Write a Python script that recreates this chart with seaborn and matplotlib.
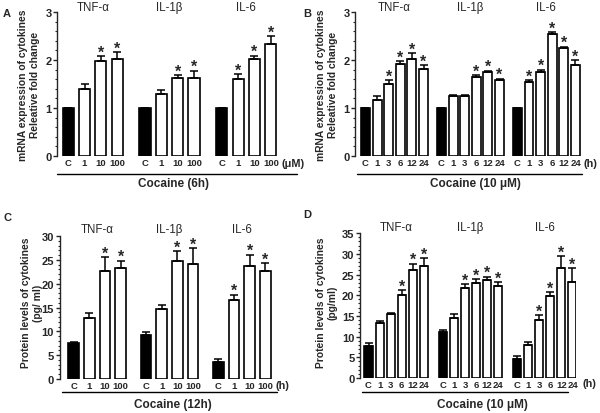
import numpy as np
import pandas as pd
import matplotlib
matplotlib.use("Agg")
import matplotlib.pyplot as plt
import seaborn as sns
from matplotlib.ticker import MultipleLocator

sns.set_style("ticks")
plt.rcParams['font.family'] = ['Liberation Sans', 'DejaVu Sans']

cytokines = ["TNF-α", "IL-1β", "IL-6"]

# A - mRNA, cocaine dose (uM), 6h
a_labels = ["C", "1", "10", "100"]
a_means = [[1.0, 1.40, 1.97, 2.02],
           [1.0, 1.30, 1.63, 1.63],
           [1.0, 1.60, 2.02, 2.34]]
a_errs = [[0, 0.10, 0.11, 0.15],
          [0, 0.08, 0.06, 0.15],
          [0, 0.10, 0.07, 0.15]]
a_sig = [[0, 0, 1, 1], [0, 0, 1, 1], [0, 1, 1, 1]]

# B - mRNA, time course (h), 10 uM
b_labels = ["C", "1", "3", "6", "12", "24"]
b_means = [[1.0, 1.17, 1.50, 1.91, 2.02, 1.82],
           [1.0, 1.25, 1.25, 1.65, 1.75, 1.58],
           [1.0, 1.55, 1.75, 2.55, 2.25, 1.90]]
b_errs = [[0, 0.07, 0.08, 0.07, 0.12, 0.07],
          [0, 0.02, 0.02, 0.03, 0.03, 0.03],
          [0, 0.03, 0.05, 0.03, 0.03, 0.09]]
b_sig = [[0, 0, 1, 1, 1, 1], [0, 0, 0, 1, 1, 1], [0, 1, 1, 1, 1, 1]]

# C - protein, cocaine dose, 12h
c_labels = ["C", "1", "10", "100"]
c_means = [[7.5, 12.8, 22.6, 23.3],
           [9.25, 14.7, 24.8, 24.1],
           [3.65, 16.6, 23.8, 22.6]]
c_errs = [[0.35, 1.05, 2.9, 1.5],
          [0.55, 0.9, 2.0, 3.4],
          [0.6, 1.1, 2.3, 1.75]]
c_sig = [[0, 0, 1, 1], [0, 0, 1, 1], [0, 1, 1, 1]]

# D - protein, time course, 10 uM
d_labels = ["C", "1", "3", "6", "12", "24"]
d_means = [[7.66, 13.2, 15.5, 20.0, 26.2, 27.0],
           [11.05, 14.6, 21.7, 23.0, 23.7, 22.2],
           [4.6, 8.0, 14.0, 19.8, 26.6, 23.2]]
d_errs = [[0.7, 0.5, 0.25, 1.3, 1.45, 1.95],
          [0.55, 0.8, 1.0, 0.95, 0.8, 0.95],
          [0.8, 0.8, 1.2, 0.95, 2.9, 3.4]]
d_sig = [[0, 0, 0, 1, 1, 1], [0, 0, 1, 1, 1, 1], [0, 0, 1, 1, 1, 1]]


def make_df(labels, means, errs, sig, gap):
    rows = []
    n = len(labels)
    for g, cyt in enumerate(cytokines):
        for i, lab in enumerate(labels):
            rows.append({"cytokine": cyt, "dose": lab, "pos": g * (n + gap) + i,
                         "value": means[g][i], "err": errs[g][i], "sig": sig[g][i],
                         "grp": "ctrl" if lab == "C" else "treat"})
    return pd.DataFrame(rows)


def draw_panel(ax, df, width, xlim, ylim, major, minor, title_y, unit, unit_x, tick_y,
               line, cap, cap_xy):
    sns.barplot(data=df, x="pos", y="value", hue="grp", palette={"ctrl": "black", "treat": "white"},
                native_scale=True, dodge=False, width=width, edgecolor="black", linewidth=1.2,
                errorbar=None, legend=False, ax=ax)
    ax.errorbar(df["pos"], df["value"], yerr=[np.zeros(len(df)), df["err"]], fmt="none",
                ecolor="black", elinewidth=1.1, capsize=2.6, capthick=1.1)
    # significance stars
    for _, r in df[df["sig"] == 1].iterrows():
        ax.annotate("*", xy=(r["pos"], r["value"] + r["err"]), xytext=(0, -2.5),
                    textcoords="offset points", ha="center", va="bottom",
                    fontsize=11.5, fontweight="bold")
    ax.set_xlim(*xlim)
    ax.set_ylim(*ylim)
    ax.set_xticks(df["pos"])
    ax.set_xticklabels(df["dose"], fontsize=6.8, fontweight="bold")
    ax.tick_params(axis="x", length=0, pad=1.5)
    ax.yaxis.set_major_locator(MultipleLocator(major))
    ax.yaxis.set_minor_locator(MultipleLocator(minor))
    ax.tick_params(axis="y", which="major", length=3, width=1, pad=1, labelsize=8)
    ax.tick_params(axis="y", which="minor", length=1.5, width=0.8)
    for t in ax.get_yticklabels():
        t.set_fontweight("bold")
    sns.despine(ax=ax, bottom=True)
    ax.spines["left"].set_linewidth(1)
    ax.set_xlabel("")
    ax.set_ylabel("")
    tr = ax.get_xaxis_transform()
    for cyt in cytokines:
        sub = df[df["cytokine"] == cyt]["pos"]
        ax.text((sub.min() + sub.max()) / 2, title_y, cyt, transform=tr,
                ha="center", va="center", fontsize=8.3)
    ax.text(unit_x, tick_y, unit, transform=ax.transAxes, ha="left", va="center",
            fontsize=7.8, fontweight="bold", clip_on=False)
    ax.plot(line[:2], [line[2], line[2]], transform=ax.transAxes, color="black",
            lw=1, clip_on=False)
    ax.text(cap_xy[0], cap_xy[1], cap, transform=ax.transAxes, ha="center", va="center",
            fontsize=8.5, fontweight="bold")


fig = plt.figure(figsize=(6, 4.14), dpi=100)
axA = fig.add_axes([0.095, 0.6208, 0.375, 0.3478])
axB = fig.add_axes([0.5917, 0.6208, 0.38, 0.3478])
axC = fig.add_axes([0.0992, 0.0821, 0.3558, 0.3454])
axD = fig.add_axes([0.600, 0.0845, 0.360, 0.350])

dfA = make_df(a_labels, a_means, a_errs, a_sig, 0.69)
dfB = make_df(b_labels, b_means, b_errs, b_sig, 0.54)
dfC = make_df(c_labels, c_means, c_errs, c_sig, 0.62)
dfD = make_df(d_labels, d_means, d_errs, d_sig, 0.72)

draw_panel(axA, dfA, 0.68, (-0.68, 13.06), (0, 3), 1, 0.2, 1.035, "(μM)", 1.0,
           -0.049, (0, 1.067, -0.125), "Cocaine (6h)", (0.516, -0.1875))
draw_panel(axB, dfB, 0.77, (-0.9, 18.73), (0, 3), 1, 0.2, 1.035, "(h)", 1.0,
           -0.049, (0.01, 0.996, -0.125), "Cocaine (10 μM)", (0.526, -0.1875))
draw_panel(axC, dfC, 0.68, (-0.9, 12.73), (0, 30), 5, 1, 1.05, "(h)", 1.01,
           -0.042, (0.012, 1.019, -0.091), "Cocaine (12h)", (0.53, -0.175))
draw_panel(axD, dfD, 0.73, (-0.77, 18.76), (0, 35), 5, 1, 1.04, "(h)", 1.03,
           -0.034, (0.009, 0.963, -0.094), "Cocaine (10 μM)", (0.566, -0.18))

# y labels and panel letters
ylab_kw = dict(rotation=90, ha="center", va="center", fontsize=7.4, fontweight="bold",
               linespacing=1.25)
fig.text(29 / 600, 1 - 85 / 414, "mRNA expression of cytokines\nReleative fold change", **ylab_kw)
fig.text(327 / 600, 1 - 85 / 414, "mRNA expression of cytokines\nReleative fold change", **ylab_kw)
fig.text(32 / 600, 1 - 303 / 414, "Protein levels of cytokines\n(pg/ ml)", **ylab_kw)
fig.text(327 / 600, 1 - 303 / 414, "Protein levels of cytokines\n(pg/ml)", **ylab_kw)

for x, y, s in [(3, 14, "A"), (303, 14, "B"), (3, 218, "C"), (303, 215, "D")]:
    fig.text(x / 600, 1 - y / 414, s, ha="left", va="center", fontsize=8, fontweight="bold")

fig.savefig("out.png", dpi=100)
